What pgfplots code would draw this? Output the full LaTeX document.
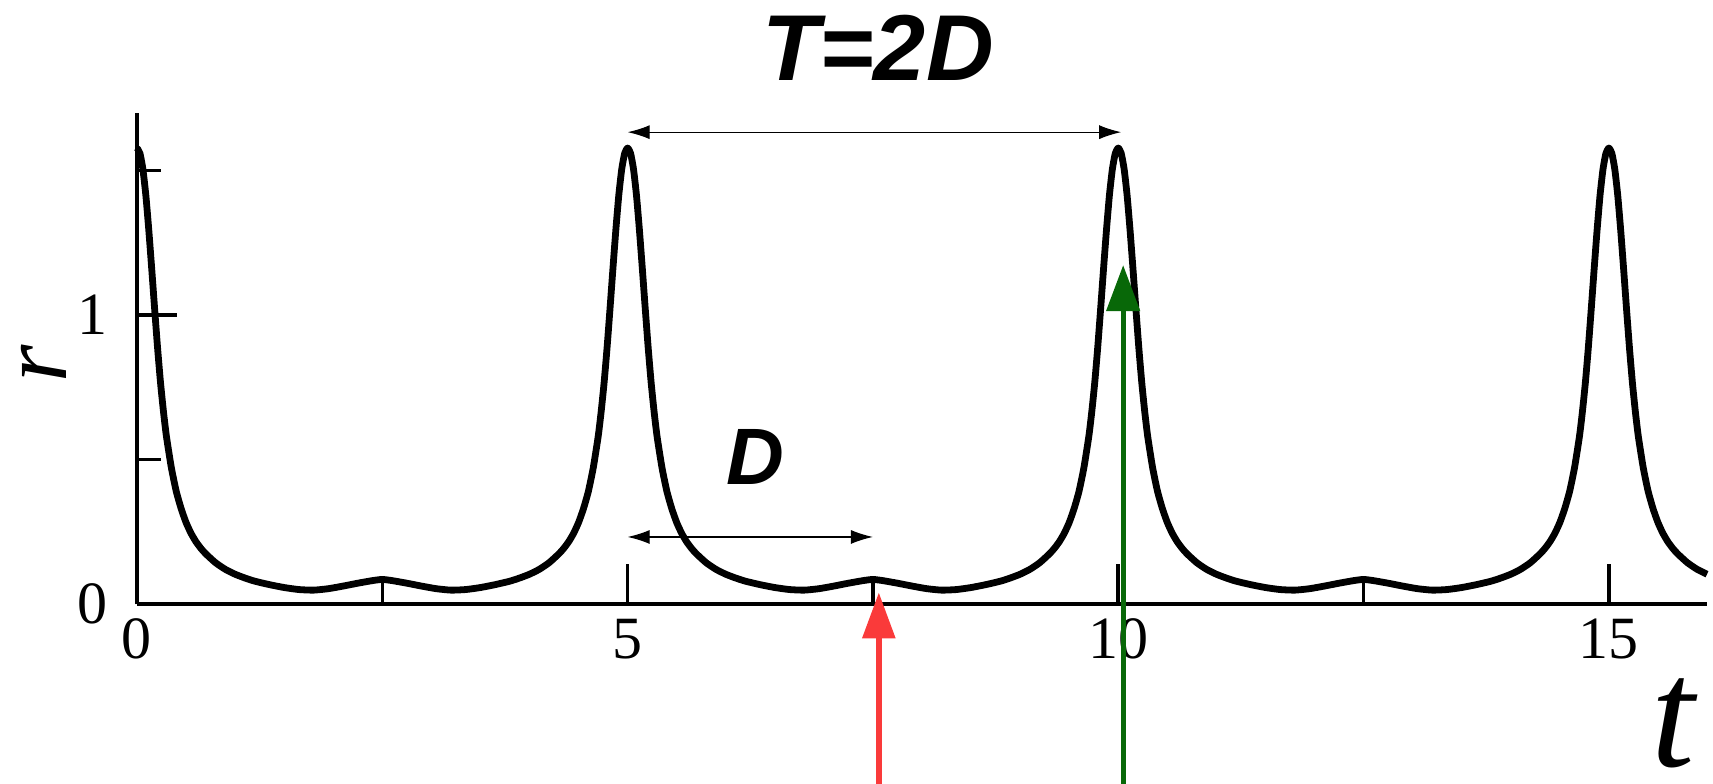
\documentclass[border=0pt]{standalone}
\usepackage{pgfplots}
\pgfplotsset{compat=1.18}
\usepackage{pgfplotstable}
\usepackage{fontspec}
\setmainfont{Liberation Serif}
\newfontfamily\annfont{Liberation Sans}
\usetikzlibrary{arrows.meta}

\definecolor{arrowred}{RGB}{250,58,58}
\definecolor{arrowgreen}{RGB}{8,104,8}

% order parameter r(t): peaks every 5 time units, small bumps in between
\pgfplotstableread{
t r
0.00 1.578
0.03 1.560
0.06 1.505
0.09 1.415
0.12 1.295
0.15 1.160
0.18 1.020
0.21 0.885
0.24 0.765
0.27 0.665
0.30 0.580
0.35 0.472
0.40 0.390
0.45 0.330
0.50 0.282
0.55 0.245
0.60 0.216
0.65 0.193
0.70 0.174
0.80 0.143
0.90 0.120
1.00 0.103
1.10 0.090
1.20 0.079
1.35 0.067
1.50 0.057
1.65 0.050
1.80 0.048
1.95 0.053
2.10 0.062
2.25 0.072
2.40 0.081
2.50 0.085
2.60 0.081
2.75 0.072
2.90 0.062
3.05 0.053
3.20 0.048
3.35 0.050
3.50 0.057
3.65 0.067
3.80 0.079
3.90 0.090
4.00 0.103
4.10 0.120
4.20 0.143
4.30 0.174
4.35 0.193
4.40 0.216
4.45 0.245
4.50 0.282
4.55 0.330
4.60 0.390
4.65 0.472
4.70 0.580
4.73 0.665
4.76 0.765
4.79 0.885
4.82 1.020
4.85 1.160
4.88 1.295
4.91 1.415
4.94 1.505
4.97 1.560
5.00 1.578
5.03 1.560
5.06 1.505
5.09 1.415
5.12 1.295
5.15 1.160
5.18 1.020
5.21 0.885
5.24 0.765
5.27 0.665
5.30 0.580
5.35 0.472
5.40 0.390
5.45 0.330
5.50 0.282
5.55 0.245
5.60 0.216
5.65 0.193
5.70 0.174
5.80 0.143
5.90 0.120
6.00 0.103
6.10 0.090
6.20 0.079
6.35 0.067
6.50 0.057
6.65 0.050
6.80 0.048
6.95 0.053
7.10 0.062
7.25 0.072
7.40 0.081
7.50 0.085
7.60 0.081
7.75 0.072
7.90 0.062
8.05 0.053
8.20 0.048
8.35 0.050
8.50 0.057
8.65 0.067
8.80 0.079
8.90 0.090
9.00 0.103
9.10 0.120
9.20 0.143
9.30 0.174
9.35 0.193
9.40 0.216
9.45 0.245
9.50 0.282
9.55 0.330
9.60 0.390
9.65 0.472
9.70 0.580
9.73 0.665
9.76 0.765
9.79 0.885
9.82 1.020
9.85 1.160
9.88 1.295
9.91 1.415
9.94 1.505
9.97 1.560
10.00 1.578
10.03 1.560
10.06 1.505
10.09 1.415
10.12 1.295
10.15 1.160
10.18 1.020
10.21 0.885
10.24 0.765
10.27 0.665
10.30 0.580
10.35 0.472
10.40 0.390
10.45 0.330
10.50 0.282
10.55 0.245
10.60 0.216
10.65 0.193
10.70 0.174
10.80 0.143
10.90 0.120
11.00 0.103
11.10 0.090
11.20 0.079
11.35 0.067
11.50 0.057
11.65 0.050
11.80 0.048
11.95 0.053
12.10 0.062
12.25 0.072
12.40 0.081
12.50 0.085
12.60 0.081
12.75 0.072
12.90 0.062
13.05 0.053
13.20 0.048
13.35 0.050
13.50 0.057
13.65 0.067
13.80 0.079
13.90 0.090
14.00 0.103
14.10 0.120
14.20 0.143
14.30 0.174
14.35 0.193
14.40 0.216
14.45 0.245
14.50 0.282
14.55 0.330
14.60 0.390
14.65 0.472
14.70 0.580
14.73 0.665
14.76 0.765
14.79 0.885
14.82 1.020
14.85 1.160
14.88 1.295
14.91 1.415
14.94 1.505
14.97 1.560
15.00 1.578
15.03 1.560
15.06 1.505
15.09 1.415
15.12 1.295
15.15 1.160
15.18 1.020
15.21 0.885
15.24 0.765
15.27 0.665
15.30 0.580
15.35 0.472
15.40 0.390
15.45 0.330
15.50 0.282
15.55 0.245
15.60 0.216
15.65 0.193
15.70 0.174
15.80 0.143
15.90 0.120
16.00 0.103
}\rdata

\begin{document}
\begin{tikzpicture}
\useasboundingbox (-34.25pt,-44.75pt) rectangle (394pt,151pt);
\begin{axis}[
  scale only axis,
  width=392.5pt, height=122.8pt,
  xmin=0, xmax=16, ymin=0, ymax=1.7,
  axis x line=bottom, axis y line=left,
  axis line style={-, line width=0.9pt},
  clip=false,
  xtick={0,5,10,15}, minor xtick={2.5,7.5,12.5},
  ytick={0,1}, minor ytick={0.5,1.5},
  tick align=inside,
  major tick length=10pt, minor tick length=6pt,
  every tick/.style={black, line width=0.9pt},
  /pgf/number format/assume math mode=true,
  xticklabel style={font=\fontsize{15}{15}\selectfont, inner sep=0pt, yshift=-3.5pt},
  yticklabel style={font=\fontsize{15}{15}\selectfont, inner sep=0pt, xshift=-7.25pt},
]
\addplot[black, line width=1.7pt, line join=round, smooth, tension=0.35] table[x=t, y=r] {\rdata};

% axis names and interval labels
\node[font=\fontsize{24}{24}\selectfont\itshape, rotate=90, inner sep=0pt] at (axis cs:-0.95,0.83) {r};
\node[font=\fontsize{39}{39}\selectfont\itshape, anchor=base, inner sep=0pt] at (axis cs:15.65,-0.561) {t};
\node[font=\annfont\fontsize{23.4}{23.4}\selectfont\bfseries\itshape, anchor=base, inner sep=0pt] at (axis cs:7.55,1.813) {T=2D};
\node[font=\annfont\fontsize{20}{20}\selectfont\bfseries\itshape, anchor=base, inner sep=0pt] at (axis cs:6.30,0.412) {D};

\coordinate (Tl) at (axis cs:5.0,1.633);
\coordinate (Tr) at (axis cs:10.03,1.633);
\coordinate (Dl) at (axis cs:5.0,0.232);
\coordinate (Dr) at (axis cs:7.5,0.232);
\coordinate (redtip) at (axis cs:7.56,0.04);
\coordinate (redfoot) at (axis cs:7.56,-0.70);
\coordinate (greentip) at (axis cs:10.05,1.173);
\coordinate (greenfoot) at (axis cs:10.05,-0.70);
\end{axis}
\draw[{Latex[length=5.5pt,width=3.5pt]}-{Latex[length=5.5pt,width=3.5pt]}, line width=0.3pt] (Tl) -- (Tr);
\draw[{Latex[length=5.5pt,width=3.5pt]}-{Latex[length=5.5pt,width=3.5pt]}, line width=0.3pt] (Dl) -- (Dr);
\draw[-{Triangle[length=11.5pt,width=8pt]}, arrowred, line width=1.5pt] (redfoot) -- (redtip);
\draw[-{Triangle[length=11.5pt,width=8.2pt]}, arrowgreen, line width=1.3pt] (greenfoot) -- (greentip);
\end{tikzpicture}
\end{document}
